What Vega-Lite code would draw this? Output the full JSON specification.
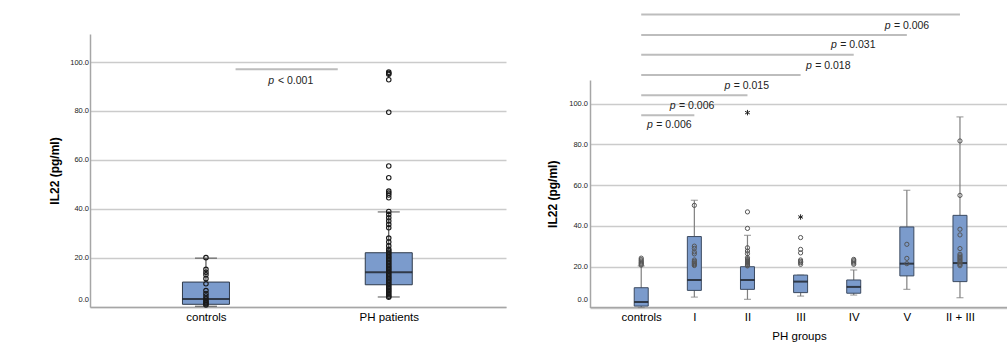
{
  "$schema": "https://vega.github.io/schema/vega-lite/v6.json",
  "padding": {"left": 48, "top": 13, "right": 0, "bottom": 5},
  "bounds": "flush",
  "spacing": 84,
  "config": {
    "view": {"stroke": null},
    "font": "Liberation Sans",
    "axis": {"domainColor": "#a6a6a6", "domainWidth": 1.5, "ticks": false, "labelColor": "#222", "titleColor": "#000", "gridColor": "#cbcbcb", "gridWidth": 1.5},
    "axisX": {"grid": false, "labelFontSize": 11.5, "labelColor": "#000", "labelPadding": 4, "titleFontSize": 11.5, "titleFontWeight": "normal", "titlePadding": 8, "labelFlush": false},
    "axisY": {"grid": true, "labelFontSize": 7.5, "labelPadding": 1.5, "titleFontSize": 12, "titleFontWeight": "bold", "titlePadding": 8, "format": ".1f", "labelFlush": false}
  },
  "datasets": {
    "leftBox": [
      {"idx": 0, "lower": 0.1, "q1": 0.9, "median": 3.1, "q3": 10.0, "upper": 19.8},
      {"idx": 1, "lower": 3.9, "q1": 8.9, "median": 14.0, "q3": 22.0, "upper": 38.7}
    ],
    "leftPts": [
      {"idx": 0, "v": 20.0}, {"idx": 0, "v": 15.2}, {"idx": 0, "v": 14.0}, {"idx": 0, "v": 13.0}, {"idx": 0, "v": 11.4}, {"idx": 0, "v": 9.3}, {"idx": 0, "v": 6.5}, {"idx": 0, "v": 5.3}, {"idx": 0, "v": 4.3}, {"idx": 0, "v": 3.3}, {"idx": 0, "v": 2.5}, {"idx": 0, "v": 1.9}, {"idx": 0, "v": 1.4}, {"idx": 0, "v": 1.0}, {"idx": 0, "v": 0.6},
      {"idx": 1, "v": 95.9}, {"idx": 1, "v": 95.4}, {"idx": 1, "v": 95.0}, {"idx": 1, "v": 92.8}, {"idx": 1, "v": 79.5}, {"idx": 1, "v": 57.5}, {"idx": 1, "v": 52.7}, {"idx": 1, "v": 47.2}, {"idx": 1, "v": 46.4}, {"idx": 1, "v": 45.6}, {"idx": 1, "v": 44.5},
      {"idx": 1, "v": 38.9}, {"idx": 1, "v": 37.6}, {"idx": 1, "v": 36.3}, {"idx": 1, "v": 35.0}, {"idx": 1, "v": 33.6}, {"idx": 1, "v": 32.2}, {"idx": 1, "v": 28.0}, {"idx": 1, "v": 26.4}, {"idx": 1, "v": 24.8},
      {"idx": 1, "v": 23.4}, {"idx": 1, "v": 22.8}, {"idx": 1, "v": 22.2}, {"idx": 1, "v": 21.6}, {"idx": 1, "v": 21.0}, {"idx": 1, "v": 20.4}, {"idx": 1, "v": 19.8}, {"idx": 1, "v": 19.2}, {"idx": 1, "v": 18.6}, {"idx": 1, "v": 18.0}, {"idx": 1, "v": 17.4}, {"idx": 1, "v": 16.8}, {"idx": 1, "v": 16.2}, {"idx": 1, "v": 15.6}, {"idx": 1, "v": 15.0}, {"idx": 1, "v": 14.4}, {"idx": 1, "v": 13.8}, {"idx": 1, "v": 13.2}, {"idx": 1, "v": 12.6}, {"idx": 1, "v": 12.0}, {"idx": 1, "v": 11.4}, {"idx": 1, "v": 10.8}, {"idx": 1, "v": 10.2}, {"idx": 1, "v": 9.6}, {"idx": 1, "v": 9.0}, {"idx": 1, "v": 8.4}, {"idx": 1, "v": 7.8}, {"idx": 1, "v": 7.2}, {"idx": 1, "v": 6.6}, {"idx": 1, "v": 6.0}, {"idx": 1, "v": 5.4}, {"idx": 1, "v": 4.8}, {"idx": 1, "v": 4.2}, {"idx": 1, "v": 3.8}
    ],
    "leftAnn": [{"x0": 0.162, "x1": 0.721, "y": 97.1, "tx": 0.383, "ty": 92.1, "p": "p", "rest": "< 0.001"}],
    "rightBox": [
      {"idx": 0, "lower": 0.0, "q1": 0.7, "median": 2.7, "q3": 9.7, "upper": 20.4},
      {"idx": 1, "lower": 5.1, "q1": 8.4, "median": 13.5, "q3": 34.8, "upper": 52.6},
      {"idx": 2, "lower": 4.0, "q1": 8.9, "median": 13.5, "q3": 20.0, "upper": 35.4},
      {"idx": 3, "lower": 5.6, "q1": 7.3, "median": 12.7, "q3": 15.9, "upper": 15.9},
      {"idx": 4, "lower": 6.1, "q1": 7.0, "median": 10.1, "q3": 13.5, "upper": 18.4},
      {"idx": 5, "lower": 8.9, "q1": 15.5, "median": 21.5, "q3": 39.5, "upper": 57.5},
      {"idx": 6, "lower": 4.8, "q1": 12.7, "median": 21.8, "q3": 45.2, "upper": 93.5}
    ],
    "rightPts": [
      {"idx": 0, "v": 24.2}, {"idx": 0, "v": 23.5}, {"idx": 0, "v": 22.9}, {"idx": 0, "v": 22.3}, {"idx": 0, "v": 21.8}, {"idx": 0, "v": 21.3}, {"idx": 0, "v": 20.8},
      {"idx": 1, "v": 50.1}, {"idx": 1, "v": 30.1}, {"idx": 1, "v": 29.0}, {"idx": 1, "v": 27.3}, {"idx": 1, "v": 26.3}, {"idx": 1, "v": 23.3}, {"idx": 1, "v": 22.6}, {"idx": 1, "v": 22.0}, {"idx": 1, "v": 21.5}, {"idx": 1, "v": 21.0}, {"idx": 1, "v": 20.6},
      {"idx": 2, "v": 46.9}, {"idx": 2, "v": 38.8}, {"idx": 2, "v": 29.3}, {"idx": 2, "v": 27.7}, {"idx": 2, "v": 26.4}, {"idx": 2, "v": 24.4}, {"idx": 2, "v": 23.8}, {"idx": 2, "v": 23.3}, {"idx": 2, "v": 22.8}, {"idx": 2, "v": 22.3}, {"idx": 2, "v": 21.8}, {"idx": 2, "v": 21.3}, {"idx": 2, "v": 20.8}, {"idx": 2, "v": 20.4},
      {"idx": 3, "v": 34.3}, {"idx": 3, "v": 28.5}, {"idx": 3, "v": 26.8}, {"idx": 3, "v": 23.3}, {"idx": 3, "v": 22.6}, {"idx": 3, "v": 22.0}, {"idx": 3, "v": 21.2},
      {"idx": 4, "v": 23.6}, {"idx": 4, "v": 23.0}, {"idx": 4, "v": 22.4}, {"idx": 4, "v": 21.8}, {"idx": 4, "v": 21.2},
      {"idx": 5, "v": 31.0}, {"idx": 5, "v": 24.1}, {"idx": 5, "v": 21.5},
      {"idx": 6, "v": 81.7}, {"idx": 6, "v": 55.0}, {"idx": 6, "v": 38.4}, {"idx": 6, "v": 35.6}, {"idx": 6, "v": 28.9}, {"idx": 6, "v": 26.1}, {"idx": 6, "v": 25.3}, {"idx": 6, "v": 24.6}, {"idx": 6, "v": 23.9}, {"idx": 6, "v": 23.2}, {"idx": 6, "v": 22.5}, {"idx": 6, "v": 21.8}, {"idx": 6, "v": 21.1}, {"idx": 6, "v": 20.5}
    ],
    "rightStars": [{"idx": 2, "v": 95.6}, {"idx": 3, "v": 44.4}],
    "rightAnn": [
      {"x0": 0, "x1": 1, "y": 94.3, "tx": 0.251, "ty": 89.5, "p": "p", "rest": "= 0.006"},
      {"x0": 0, "x1": 2, "y": 104.1, "tx": 0.680, "ty": 98.9, "p": "p", "rest": "= 0.006"},
      {"x0": 0, "x1": 3, "y": 114.1, "tx": 1.709, "ty": 108.7, "p": "p", "rest": "= 0.015"},
      {"x0": 0, "x1": 4, "y": 124.0, "tx": 3.242, "ty": 118.5, "p": "p", "rest": "= 0.018"},
      {"x0": 0, "x1": 5, "y": 133.7, "tx": 3.713, "ty": 128.7, "p": "p", "rest": "= 0.031"},
      {"x0": 0, "x1": 6, "y": 143.7, "tx": 4.724, "ty": 138.1, "p": "p", "rest": "= 0.006"}
    ]
  },
  "hconcat": [
    {
      "width": 416,
      "height": 273,
      "layer": [
        {
          "data": {"name": "leftBox"},
          "mark": {"type": "rule", "color": "#333", "strokeWidth": 1},
          "encoding": {
            "x": {"field": "idx", "type": "quantitative", "title": null, "scale": {"domain": [-0.607, 1.614], "nice": false, "zero": false},
                  "axis": {"values": [0, 1], "labelExpr": "datum.value == 0 ? 'controls' : 'PH patients'"}},
            "y": {"field": "lower", "type": "quantitative", "title": "IL22 (pg/ml)", "scale": {"domain": [-0.2, 111.5], "nice": false, "zero": false},
                  "axis": {"values": [0, 20, 40, 60, 80, 100], "labelOffset": {"condition": {"test": "datum.value === 0", "value": -7}, "value": 0}}},
            "y2": {"field": "upper"}
          }
        },
        {
          "data": {"name": "leftBox"},
          "mark": {"type": "tick", "orient": "horizontal", "color": "#333", "size": 22, "thickness": 1.2},
          "encoding": {
            "x": {"field": "idx", "type": "quantitative", "title": null, "scale": {"domain": [-0.607, 1.614], "nice": false, "zero": false}},
            "y": {"field": "upper", "type": "quantitative", "title": "IL22 (pg/ml)", "scale": {"domain": [-0.2, 111.5], "nice": false, "zero": false}}
          }
        },
        {
          "data": {"name": "leftBox"},
          "mark": {"type": "tick", "orient": "horizontal", "color": "#333", "size": 22, "thickness": 1.2},
          "encoding": {
            "x": {"field": "idx", "type": "quantitative", "title": null, "scale": {"domain": [-0.607, 1.614], "nice": false, "zero": false}},
            "y": {"field": "lower", "type": "quantitative", "title": "IL22 (pg/ml)", "scale": {"domain": [-0.2, 111.5], "nice": false, "zero": false}}
          }
        },
        {
          "data": {"name": "leftBox"},
          "mark": {"type": "bar", "orient": "vertical", "size": 47, "fill": "#7b9bcc", "stroke": "#2e3a4a", "strokeWidth": 1},
          "encoding": {
            "x": {"field": "idx", "type": "quantitative", "title": null, "scale": {"domain": [-0.607, 1.614], "nice": false, "zero": false}},
            "y": {"field": "q1", "type": "quantitative", "title": "IL22 (pg/ml)", "scale": {"domain": [-0.2, 111.5], "nice": false, "zero": false}},
            "y2": {"field": "q3"}
          }
        },
        {
          "data": {"name": "leftBox"},
          "mark": {"type": "tick", "orient": "horizontal", "color": "#111", "size": 47, "thickness": 2},
          "encoding": {
            "x": {"field": "idx", "type": "quantitative", "title": null, "scale": {"domain": [-0.607, 1.614], "nice": false, "zero": false}},
            "y": {"field": "median", "type": "quantitative", "title": "IL22 (pg/ml)", "scale": {"domain": [-0.2, 111.5], "nice": false, "zero": false}}
          }
        },
        {
          "data": {"name": "leftPts"},
          "mark": {"type": "point", "filled": false, "stroke": "#1a1a1a", "strokeWidth": 1.1, "size": 20, "opacity": 1},
          "encoding": {
            "x": {"field": "idx", "type": "quantitative", "title": null, "scale": {"domain": [-0.607, 1.614], "nice": false, "zero": false}},
            "y": {"field": "v", "type": "quantitative", "title": "IL22 (pg/ml)", "scale": {"domain": [-0.2, 111.5], "nice": false, "zero": false}}
          }
        },
        {
          "data": {"name": "leftAnn"},
          "mark": {"type": "rule", "color": "#bdbdbd", "strokeWidth": 2},
          "encoding": {
            "x": {"field": "x0", "type": "quantitative", "title": null, "scale": {"domain": [-0.607, 1.614], "nice": false, "zero": false}},
            "x2": {"field": "x1"},
            "y": {"field": "y", "type": "quantitative", "title": "IL22 (pg/ml)", "scale": {"domain": [-0.2, 111.5], "nice": false, "zero": false}}
          }
        },
        {
          "data": {"name": "leftAnn"},
          "mark": {"type": "text", "fontStyle": "italic", "fontSize": 10.5, "align": "right", "baseline": "middle", "dx": -2, "color": "#222"},
          "encoding": {
            "x": {"field": "tx", "type": "quantitative", "title": null, "scale": {"domain": [-0.607, 1.614], "nice": false, "zero": false}},
            "y": {"field": "ty", "type": "quantitative", "title": "IL22 (pg/ml)", "scale": {"domain": [-0.2, 111.5], "nice": false, "zero": false}},
            "text": {"field": "p"}
          }
        },
        {
          "data": {"name": "leftAnn"},
          "mark": {"type": "text", "fontSize": 10.5, "align": "left", "baseline": "middle", "dx": 2, "color": "#222"},
          "encoding": {
            "x": {"field": "tx", "type": "quantitative", "title": null, "scale": {"domain": [-0.607, 1.614], "nice": false, "zero": false}},
            "y": {"field": "ty", "type": "quantitative", "title": "IL22 (pg/ml)", "scale": {"domain": [-0.2, 111.5], "nice": false, "zero": false}},
            "text": {"field": "rest"}
          }
        }
      ]
    },
    {
      "width": 418,
      "height": 273,
      "layer": [
        {
          "data": {"name": "rightBox"},
          "mark": {"type": "rule", "color": "#7f7f7f", "strokeWidth": 1.2},
          "encoding": {
            "x": {"field": "idx", "type": "quantitative", "title": "PH groups", "scale": {"domain": [-0.87, 6.81], "nice": false, "zero": false},
                  "axis": {"values": [0, 1, 2, 3, 4, 5, 6], "labelExpr": "['controls','I','II','III','IV','V','II + III'][datum.value]"}},
            "y": {"field": "lower", "type": "quantitative", "title": "IL22 (pg/ml)", "scale": {"domain": [0, 111.6], "range": [273.5, 46], "nice": false, "zero": false},
                  "axis": {"values": [0, 20, 40, 60, 80, 100], "labelPadding": 2.5, "titlePadding": 9, "labelOffset": {"condition": {"test": "datum.value === 0", "value": -8}, "value": 0}}},
            "y2": {"field": "upper"}
          }
        },
        {
          "data": {"name": "rightBox"},
          "mark": {"type": "tick", "orient": "horizontal", "color": "#7f7f7f", "size": 7, "thickness": 1.2},
          "encoding": {
            "x": {"field": "idx", "type": "quantitative", "title": "PH groups", "scale": {"domain": [-0.87, 6.81], "nice": false, "zero": false}},
            "y": {"field": "upper", "type": "quantitative", "title": "IL22 (pg/ml)", "scale": {"domain": [0, 111.6], "range": [273.5, 46], "nice": false, "zero": false}}
          }
        },
        {
          "data": {"name": "rightBox"},
          "mark": {"type": "tick", "orient": "horizontal", "color": "#7f7f7f", "size": 7, "thickness": 1.2},
          "encoding": {
            "x": {"field": "idx", "type": "quantitative", "title": "PH groups", "scale": {"domain": [-0.87, 6.81], "nice": false, "zero": false}},
            "y": {"field": "lower", "type": "quantitative", "title": "IL22 (pg/ml)", "scale": {"domain": [0, 111.6], "range": [273.5, 46], "nice": false, "zero": false}}
          }
        },
        {
          "data": {"name": "rightBox"},
          "mark": {"type": "bar", "orient": "vertical", "size": 14, "fill": "#7b9bcc", "stroke": "#3b4a60", "strokeWidth": 1},
          "encoding": {
            "x": {"field": "idx", "type": "quantitative", "title": "PH groups", "scale": {"domain": [-0.87, 6.81], "nice": false, "zero": false}},
            "y": {"field": "q1", "type": "quantitative", "title": "IL22 (pg/ml)", "scale": {"domain": [0, 111.6], "range": [273.5, 46], "nice": false, "zero": false}},
            "y2": {"field": "q3"}
          }
        },
        {
          "data": {"name": "rightBox"},
          "mark": {"type": "tick", "orient": "horizontal", "color": "#111", "size": 14, "thickness": 2},
          "encoding": {
            "x": {"field": "idx", "type": "quantitative", "title": "PH groups", "scale": {"domain": [-0.87, 6.81], "nice": false, "zero": false}},
            "y": {"field": "median", "type": "quantitative", "title": "IL22 (pg/ml)", "scale": {"domain": [0, 111.6], "range": [273.5, 46], "nice": false, "zero": false}}
          }
        },
        {
          "data": {"name": "rightPts"},
          "mark": {"type": "point", "filled": false, "stroke": "#555", "strokeWidth": 1, "size": 18, "opacity": 1},
          "encoding": {
            "x": {"field": "idx", "type": "quantitative", "title": "PH groups", "scale": {"domain": [-0.87, 6.81], "nice": false, "zero": false}},
            "y": {"field": "v", "type": "quantitative", "title": "IL22 (pg/ml)", "scale": {"domain": [0, 111.6], "range": [273.5, 46], "nice": false, "zero": false}}
          }
        },
        {
          "data": {"name": "rightStars"},
          "mark": {"type": "point", "filled": false, "shape": "M0,-1L0,1M-0.87,-0.5L0.87,0.5M-0.87,0.5L0.87,-0.5", "stroke": "#222", "strokeWidth": 1, "size": 30, "opacity": 1},
          "encoding": {
            "x": {"field": "idx", "type": "quantitative", "title": "PH groups", "scale": {"domain": [-0.87, 6.81], "nice": false, "zero": false}},
            "y": {"field": "v", "type": "quantitative", "title": "IL22 (pg/ml)", "scale": {"domain": [0, 111.6], "range": [273.5, 46], "nice": false, "zero": false}}
          }
        },
        {
          "data": {"name": "rightAnn"},
          "mark": {"type": "rule", "color": "#bdbdbd", "strokeWidth": 2},
          "encoding": {
            "x": {"field": "x0", "type": "quantitative", "title": "PH groups", "scale": {"domain": [-0.87, 6.81], "nice": false, "zero": false}},
            "x2": {"field": "x1"},
            "y": {"field": "y", "type": "quantitative", "title": "IL22 (pg/ml)", "scale": {"domain": [0, 111.6], "range": [273.5, 46], "nice": false, "zero": false}}
          }
        },
        {
          "data": {"name": "rightAnn"},
          "mark": {"type": "text", "fontStyle": "italic", "fontSize": 10.5, "align": "right", "baseline": "middle", "dx": -1.7, "color": "#222"},
          "encoding": {
            "x": {"field": "tx", "type": "quantitative", "title": "PH groups", "scale": {"domain": [-0.87, 6.81], "nice": false, "zero": false}},
            "y": {"field": "ty", "type": "quantitative", "title": "IL22 (pg/ml)", "scale": {"domain": [0, 111.6], "range": [273.5, 46], "nice": false, "zero": false}},
            "text": {"field": "p"}
          }
        },
        {
          "data": {"name": "rightAnn"},
          "mark": {"type": "text", "fontSize": 10.5, "align": "left", "baseline": "middle", "dx": 1.7, "color": "#222"},
          "encoding": {
            "x": {"field": "tx", "type": "quantitative", "title": "PH groups", "scale": {"domain": [-0.87, 6.81], "nice": false, "zero": false}},
            "y": {"field": "ty", "type": "quantitative", "title": "IL22 (pg/ml)", "scale": {"domain": [0, 111.6], "range": [273.5, 46], "nice": false, "zero": false}},
            "text": {"field": "rest"}
          }
        }
      ]
    }
  ]
}
